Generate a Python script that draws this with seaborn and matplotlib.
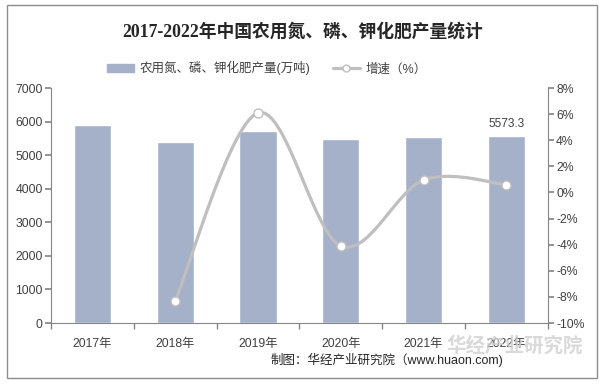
import numpy as np
import pandas as pd
import seaborn as sns
import matplotlib.pyplot as plt
from matplotlib.patches import Rectangle
from matplotlib.lines import Line2D
from matplotlib.ticker import FuncFormatter

# data
years = ["2017年", "2018年", "2019年", "2020年", "2021年", "2022年"]
output = [5898, 5392, 5719, 5481, 5540, 5573.3]   # 万吨
growth = [None, -8.3, 6.1, -4.1, 0.95, 0.6]      # %

bar_color = "#A5B0C9"
line_color = "#BFBFBF"
axis_color = "#868686"


def smooth_path(x, y, n=30):
    """Catmull-Rom curve through the points (same look as Excel smoothed lines)."""
    x = np.asarray(x, float)
    y = np.asarray(y, float)
    px = np.concatenate([[x[0]], x, [x[-1]]])
    py = np.concatenate([[y[0]], y, [y[-1]]])
    xs, ys = [], []
    t = np.linspace(0, 1, n)
    for i in range(1, len(px) - 2):
        p0, p1, p2, p3 = [np.array([px[j], py[j]]) for j in (i - 1, i, i + 1, i + 2)]
        c1 = p1 + (p2 - p0) / 6
        c2 = p2 - (p3 - p1) / 6
        pts = ((1 - t) ** 3)[:, None] * p1 + (3 * (1 - t) ** 2 * t)[:, None] * c1 \
            + (3 * (1 - t) * t ** 2)[:, None] * c2 + (t ** 3)[:, None] * p2
        xs.append(pts[:, 0])
        ys.append(pts[:, 1])
    return np.concatenate(xs), np.concatenate(ys)


sns.set_theme(style="white")
plt.rcParams["font.family"] = ["Liberation Sans", "Noto Sans CJK SC", "DejaVu Sans"]

df = pd.DataFrame({"year": years, "output": output})

fig = plt.figure(figsize=(6.06, 3.86), dpi=100)
ax = fig.add_axes([0.0842, 0.1632, 0.8198, 0.6088])

sns.barplot(data=df, x="year", y="output", color=bar_color, width=0.45,
            saturation=1, ax=ax)
ax.set_xlim(-0.5, 5.5)
ax.set_ylim(0, 7000)
ax.set_yticks(range(0, 7001, 1000))
ax.set_xlabel("")
ax.set_ylabel("")
ax.text(5, output[-1] + 180, f"{output[-1]}", ha="center", va="bottom",
        fontsize=8.5, color="#404040")

ax2 = ax.twinx()
gx = [i for i, g in enumerate(growth) if g is not None]
gy = [g for g in growth if g is not None]
sx, sy = smooth_path(gx, gy)
ax2.plot(sx, sy, color=line_color, lw=2.3, solid_capstyle="round", zorder=3)
ax2.plot(gx, gy, ls="none", marker="o", ms=6.5, mfc="white", mec=line_color,
         mew=1, zorder=4)
ax2.set_ylim(-10, 8)
ax2.set_yticks(range(-10, 9, 2))
ax2.yaxis.set_major_formatter(FuncFormatter(lambda v, p: f"{int(v)}%"))

# axes styling
for a in (ax, ax2):
    for s in a.spines.values():
        s.set_visible(False)
    a.grid(False)
ax.spines["left"].set_visible(True)
ax.spines["bottom"].set_visible(True)
ax2.spines["right"].set_visible(True)
for s in (ax.spines["left"], ax.spines["bottom"], ax2.spines["right"]):
    s.set_color(axis_color)
    s.set_linewidth(0.8)

ax.tick_params(axis="y", left=True, length=4, color=axis_color, labelsize=8.8,
               labelcolor="#404040", pad=2)
ax2.tick_params(axis="y", right=True, length=4, color=axis_color, labelsize=8.8,
                labelcolor="#404040", pad=2)
ax.set_xticks(range(6))
ax.set_xticklabels(years)
ax.set_xticks(np.arange(-0.5, 6, 1), minor=True)
ax.tick_params(axis="x", which="major", bottom=False, labelsize=8.8,
               labelcolor="#404040", pad=5)
ax.tick_params(axis="x", which="minor", bottom=True, length=4, color=axis_color)

# title and legend
fig.text(0.5, 0.917, "2017-2022年中国农用氮、磷、钾化肥产量统计", ha="center", va="center",
         fontsize=12.8, fontweight="bold", color="#262626",
         family=["Liberation Serif", "Noto Sans CJK SC"])
handles = [
    Rectangle((0, 0), 1, 1, color=bar_color),
    Line2D([], [], color=line_color, lw=2.3, marker="o", ms=5, mfc="white",
           mec=line_color),
]
fig.legend(handles, ["农用氮、磷、钾化肥产量(万吨)", "增速（%）"], loc="center",
           bbox_to_anchor=(0.44, 0.823), ncol=2, frameon=False, fontsize=9,
           handlelength=2.2, handleheight=0.5, columnspacing=1.8, handletextpad=0.4,
           labelcolor="#404040")

# watermark and source
fig.text(0.962, 0.104, "华经产业研究院", ha="right", va="center", fontsize=14,
         fontweight="bold", color="#D0D0D0", alpha=0.8, zorder=0)
fig.text(0.83, 0.067, "制图：华经产业研究院（www.huaon.com)", ha="right", va="center",
         fontsize=9, color="#262626")

fig.patches.append(Rectangle((0.0116, 0.0207), 0.9736, 0.966, transform=fig.transFigure,
                             fill=False, edgecolor="#8C8C8C", lw=1))

fig.savefig("out.png", dpi=100)
